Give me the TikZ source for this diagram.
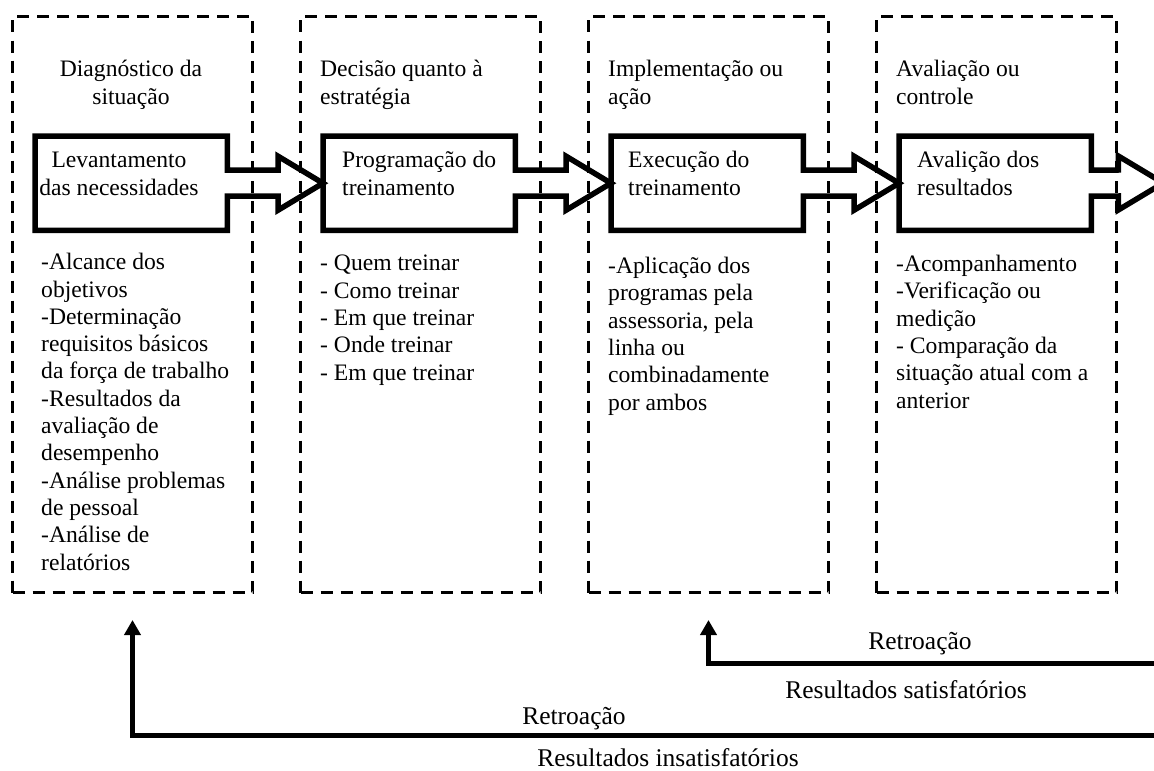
\documentclass[tikz,border=0pt]{standalone}
\usepackage{fontspec}
\setmainfont{Liberation Serif}
\usetikzlibrary{arrows.meta}

\begin{document}
\begin{tikzpicture}[x=1pt, y=-1pt,
    every node/.style={inner sep=0, font=\fontsize{23.6}{27.3}\selectfont},
    zona/.style={draw, line width=3pt, dash pattern=on 12pt off 8pt,
      minimum width=240pt, minimum height=576pt, anchor=north west},
    etapa/.style={minimum width=192pt, minimum height=94pt, anchor=north west},
    contorno/.style={line width=5.5pt, line join=miter},
    retorno/.style={line width=5pt, -{Triangle[width=16pt,length=15pt]}},
    texto/.style={anchor=base west, align=left},
    legenda/.style={anchor=base, font=\fontsize{25.5}{27.3}\selectfont}]
  \useasboundingbox (0,0) rectangle (1154,771);

  % Dashed zones & step boxes
  \foreach \n in {1,...,4} {
    \node[zona] (z\n) at ({11+288*(\n-1)}, 15) {};
    \node[etapa] (b\n) at ({35+288*(\n-1)}, 136) {};
  }
  \node (b5) at (1164, 183) {};

  % Headings (base = last line)
  \node[align=center, anchor=base] (c1) at (131, 104) {Diagnóstico da\\situação};
  \node[texto] (c2) at (320, 104) {Decisão quanto à\\estratégia};
  \node[texto] (c3) at (608, 104) {Implementação ou\\ação};
  \node[texto] (c4) at (896, 104) {Avaliação ou\\controle};

  % Box texts
  \node[align=center, anchor=base] (t1) at (119, 195) {Levantamento\\das necessidades};
  \node[texto] (t2) at (342, 195) {Programação do\\treinamento};
  \node[texto] (t3) at (628, 195) {Execução do\\treinamento};
  \node[texto] (t4) at (917, 195) {Avalição dos\\resultados};

  % Lists
  \node[texto] (l1) at (41, 570) {-Alcance dos\\objetivos\\-Determinação\\requisitos básicos\\da força de trabalho\\-Resultados da\\avaliação de\\desempenho\\-Análise problemas\\de pessoal\\-Análise de\\relatórios};
  \node[texto] (l2) at (320, 380) {- Quem treinar\\- Como treinar\\- Em que treinar\\- Onde treinar\\- Em que treinar};
  \node[texto] (l3) at (608, 410) {-Aplicação dos\\programas pela\\assessoria, pela\\linha ou\\combinadamente\\por ambos};
  \node[texto] (l4) at (896, 408) {-Acompanhamento\\-Verificação ou\\medição\\- Comparação da\\situação atual com a\\anterior};

  % Block arrows joined to the boxes
  \foreach \a/\b in {b1/b2, b2/b3, b3/b4, b4/b5} {
    \draw[contorno] ([yshift=-13pt]\a.east) -- ([xshift=-45pt,yshift=-13pt]\b.west)
      -- ([xshift=-45pt,yshift=-27pt]\b.west) -- (\b.west)
      -- ([xshift=-45pt,yshift=27pt]\b.west) -- ([xshift=-45pt,yshift=13pt]\b.west)
      -- ([yshift=13pt]\a.east) -- (\a.north east) -- (\a.north west)
      -- (\a.south west) -- (\a.south east) -- cycle;
  }

  % Feedback loops
  \coordinate (r1) at (1160, 663);
  \coordinate (r2) at (1160, 735);
  \draw[retorno] (r1) -| ([yshift=-26pt]z3.south);
  \draw[retorno] (r2) -| ([yshift=-26pt]z1.south);

  \node[legenda] (ret1) at (920, 649) {Retroação};
  \node[legenda] (res1) at (906, 698) {Resultados satisfatórios};
  \node[legenda] (ret2) at (574, 724) {Retroação};
  \node[legenda] (res2) at (668, 766) {Resultados insatisfatórios};
\end{tikzpicture}
\end{document}
